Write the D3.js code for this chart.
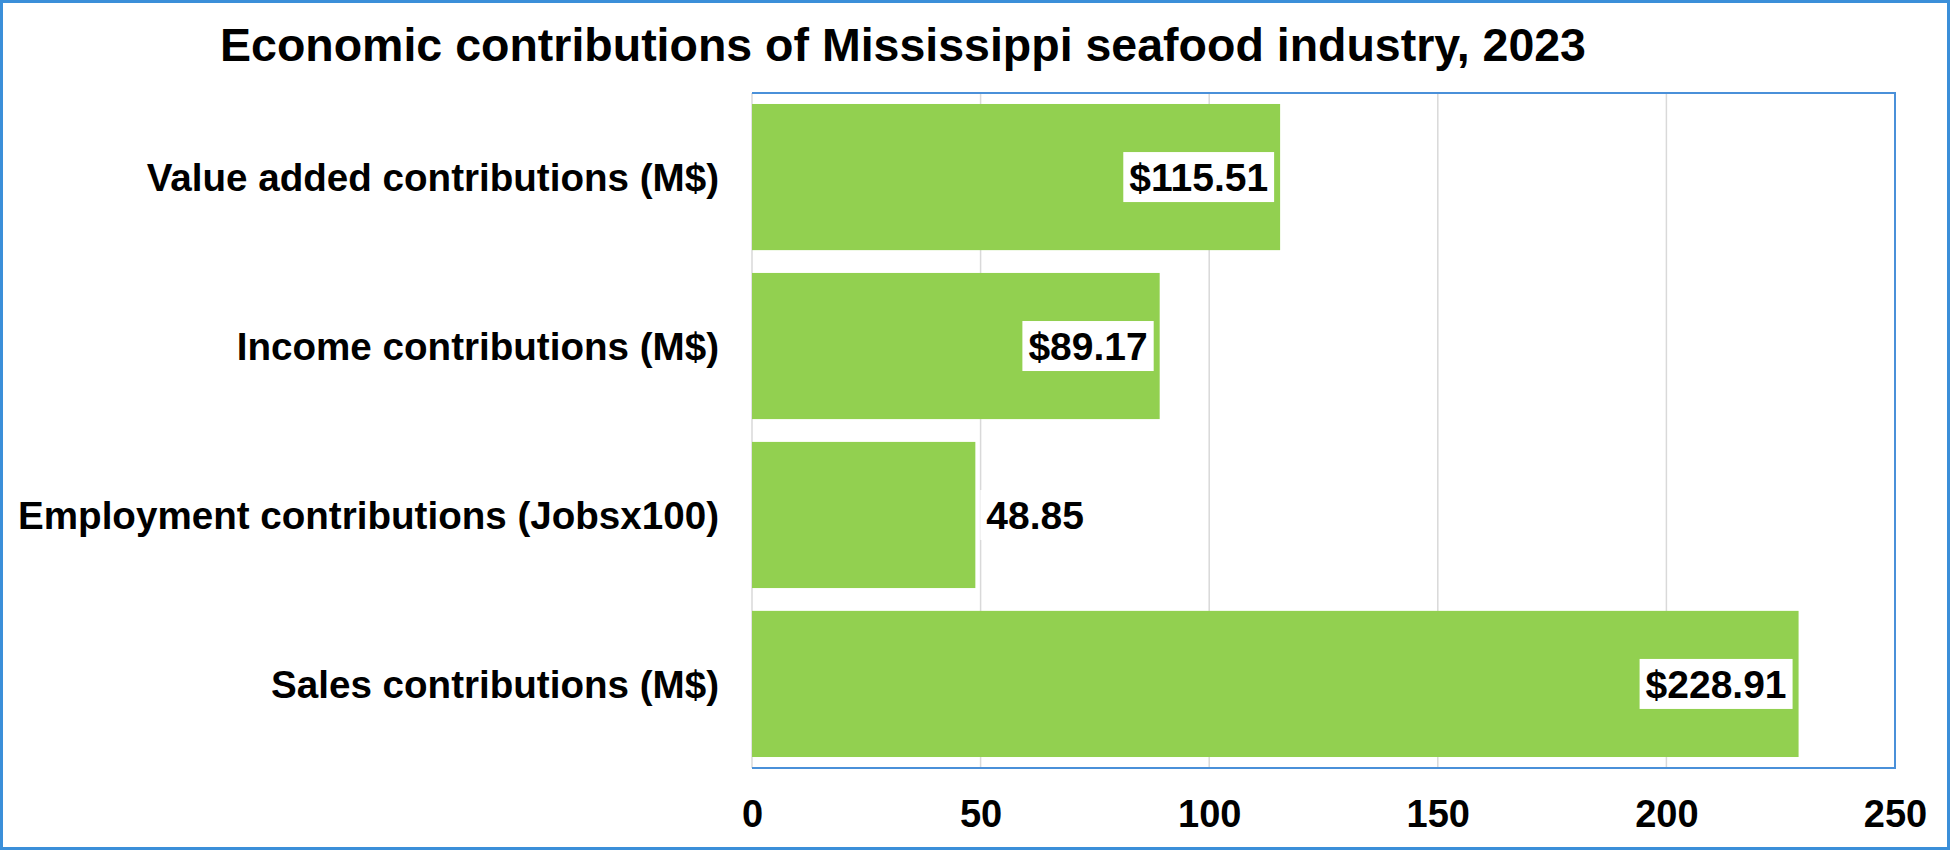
<!DOCTYPE html>
<html>
<head>
<meta charset="utf-8">
<script src="https://cdn.jsdelivr.net/npm/d3@7"></script>
<style>
  body { margin: 0; background: #fff; }
  text { font-family: Arial, "Liberation Sans", sans-serif; font-weight: bold; fill: #000; }
</style>
</head>
<body>
<script>
var categories = ["Value added contributions (M$)", "Income contributions (M$)", "Employment contributions (Jobsx100)", "Sales contributions (M$)"];
var values = [115.51, 89.17, 48.85, 228.91];
var valueLabels = ["$115.51", "$89.17", "48.85", "$228.91"];
var tickValues = [0, 50, 100, 150, 200, 250];

var W = 1950, H = 850;
var plotLeft = 752, plotRight = 1895, plotTop = 93, plotBottom = 768;

var svg = d3.select("body").append("svg").attr("width", W).attr("height", H);

// outer frame
svg.append("rect").attr("x", 1.5).attr("y", 1.5).attr("width", W - 3).attr("height", H - 3)
      .attr("fill", "none").attr("stroke", "#3b8fd9").attr("stroke-width", 3);

svg.append("text").attr("x", 903).attr("y", 61).attr("text-anchor", "middle")
      .style("font-size", "46.5px").text("Economic contributions of Mississippi seafood industry, 2023");

var x = d3.scaleLinear().domain([0, 250]).range([plotLeft, plotRight]);
var y = d3.scaleBand().domain(categories).range([plotTop, plotBottom]).paddingInner(0.135).paddingOuter(0.065);

// gridlines
svg.selectAll("line.grid")
      .data(tickValues)
      .enter().append("line")
                .attr("class", "grid")
                .attr("x1", function(d){ return x(d); })
                .attr("x2", function(d){ return x(d); })
                .attr("y1", plotTop).attr("y2", plotBottom)
                .attr("stroke", "#d9d9d9").attr("stroke-width", 1.5);

// plot border (top, right, bottom)
svg.append("path")
      .attr("d", "M" + plotLeft + "," + plotTop + "H" + plotRight + "V" + plotBottom + "H" + plotLeft)
      .attr("fill", "none").attr("stroke", "#4a90d9").attr("stroke-width", 2);

svg.selectAll("rect.bar")
      .data(values)
      .enter().append("rect")
                .attr("class", "bar")
                .attr("x", x(0))
                .attr("y", function(d,i){ return y(categories[i]); })
                .attr("width", function(d){ return x(d) - x(0); })
                .attr("height", y.bandwidth())
                .attr("fill", "#92d050");

// category labels
svg.selectAll("text.cat")
      .data(categories)
      .enter().append("text")
                .attr("class", "cat")
                .attr("x", 719)
                .attr("y", function(d){ return y(d) + y.bandwidth() / 2; })
                .attr("dy", "0.36em")
                .attr("text-anchor", "end")
                .style("font-size", "38.6px")
                .text(function(d){ return d; });

// axis tick labels
var xAxis = d3.axisBottom(x).tickValues(tickValues).tickSize(0).tickPadding(0);
var ax = svg.append("g").attr("transform", "translate(0," + plotBottom + ")").call(xAxis);
ax.select(".domain").remove();
ax.selectAll("text").attr("y", 59).attr("dy", null)
      .style("font-size", "38px").style("font-family", "Arial, 'Liberation Sans', sans-serif").attr("fill", "#000");

// data labels
var labels = svg.selectAll("g.lbl")
      .data(values)
      .enter().append("g")
                .attr("class", "lbl");

labels.each(function(d,i){
  var g = d3.select(this);
  var cy = y(categories[i]) + y.bandwidth() / 2;
  var inside = d > 80;
  var t = g.append("text")
        .attr("y", cy).attr("dy", "0.36em")
        .style("font-size", "39px")
        .text(valueLabels[i]);
  var w = t.node().getComputedTextLength();
  var bx = inside ? x(d) - 6 - (w + 12) : x(d) + 5;
  g.insert("rect", "text")
        .attr("x", bx).attr("y", cy - 25)
        .attr("width", w + 12).attr("height", 50)
        .attr("fill", "#fff");
  t.attr("x", bx + 6);
});
</script>
</body>
</html>
